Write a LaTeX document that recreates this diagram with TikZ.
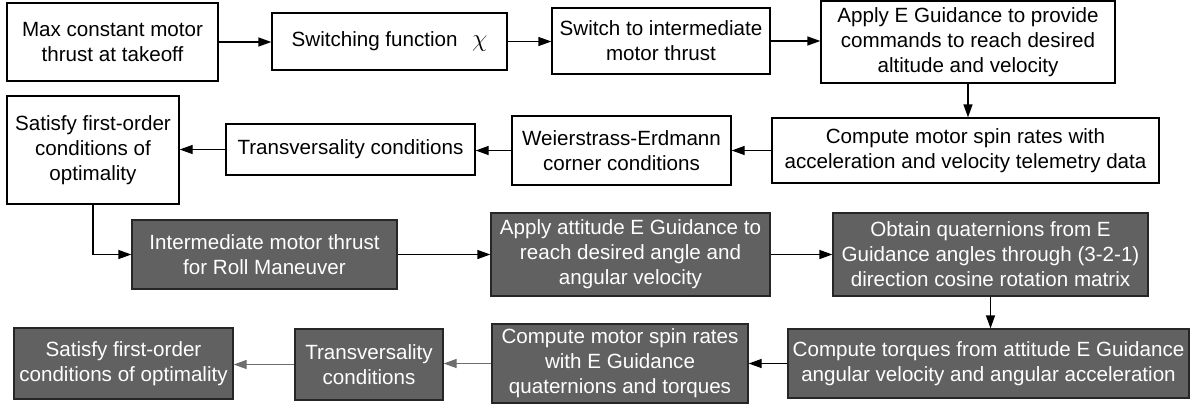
\documentclass[tikz,border=0pt]{standalone}
\usepackage{fontspec}
\setmainfont{Liberation Sans}
\usetikzlibrary{arrows.meta}
\definecolor{boxdark}{HTML}{616161}
\definecolor{arrgray}{HTML}{6E6E6E}
\tikzset{
  stepbox/.style={draw=black, line width=1.3pt, fill=white, align=center,
    inner sep=0pt, font=\fontsize{20.6}{25}\selectfont},
  darkbox/.style={stepbox, fill=boxdark, text=white, draw=black!85},
  flow/.style={line width=1.3pt, -{Triangle[length=13pt,width=9pt]}},
  grayflow/.style={flow, draw=arrgray, -{Triangle[length=13pt,width=9pt,fill=arrgray]}}
}
\newcommand{\bx}[7]{% name, style, cx, cy, w, h, text
  \node[#2, minimum width=#5pt, minimum height=#6pt] (#1) at (#3,#4) {#7};}
\begin{document}
\begin{tikzpicture}[x=1pt,y=-1pt]
\useasboundingbox (0,0) rectangle (1190,404);
% first row: takeoff thrust to altitude guidance
\bx{A}{stepbox}{112.5}{42}{211}{78}{Max constant motor\\thrust at takeoff}
\bx{B}{stepbox}{389.5}{41.5}{235}{57}{Switching function\hspace{0.7em}{\fontsize{27}{25}\selectfont$\chi$}}
\bx{C}{stepbox}{661}{41}{218}{66}{Switch to intermediate\\motor thrust}
\bx{D}{stepbox}{968}{42}{294}{82}{Apply E Guidance to provide\\commands to reach desired\\altitude and velocity}
% second row: optimality conditions for the translational phase
\bx{E}{stepbox}{965.5}{150.5}{387}{65}{Compute motor spin rates with\\acceleration and velocity telemetry data}
\bx{F}{stepbox}{621.5}{150.5}{219}{69}{Weierstrass-Erdmann\\corner conditions}
\bx{G}{stepbox}{350.5}{149.5}{249}{51}{Transversality conditions}
\bx{H}{stepbox}{93}{150}{172}{108}{Satisfy first-order\\conditions of\\optimality}
% third row: roll manoeuvre
\bx{I}{darkbox}{264.5}{254.5}{265}{69}{Intermediate motor thrust\\for Roll Maneuver}
\bx{J}{darkbox}{630.5}{254.5}{279}{83}{Apply attitude E Guidance to\\reach desired angle and\\angular velocity}
\bx{K}{darkbox}{990.5}{254.5}{315}{83}{Obtain quaternions from E\\Guidance angles through (3-2-1)\\direction cosine rotation matrix}
% fourth row: attitude optimality conditions
\bx{L}{darkbox}{988.5}{363.5}{401}{69}{Compute torques from attitude E Guidance\\angular velocity and angular acceleration}
\bx{M}{darkbox}{620}{363.5}{256}{79}{Compute motor spin rates\\with E Guidance\\quaternions and torques}
\bx{N}{darkbox}{369}{364.5}{148}{71}{Transversality\\conditions}
\bx{O}{darkbox}{123.5}{363.5}{219}{71}{Satisfy first-order\\conditions of optimality}
% connectors
\draw[flow] (A.east) -- (A.east -| B.west);
\draw[flow] (B.east) -- (B.east -| C.west);
\draw[flow] (C.east) -- (C.east -| D.west);
\draw[flow] (D.south) -- (D.south |- E.north);
\draw[flow] (E.west) -- (E.west -| F.east);
\draw[flow] (F.west) -- (F.west -| G.east);
\draw[flow] (G.west) -- (G.west -| H.east);
\draw[flow] (H.south) |- (I.west);
\draw[flow] (I.east) -- (I.east -| J.west);
\draw[flow] (J.east) -- (J.east -| K.west);
\draw[flow] (K.south) -- (K.south |- L.north);
\draw[flow] (L.west) -- (L.west -| M.east);
\draw[grayflow] (M.west) -- (M.west -| N.east);
\draw[grayflow] (N.west) -- (N.west -| O.east);
\end{tikzpicture}
\end{document}
